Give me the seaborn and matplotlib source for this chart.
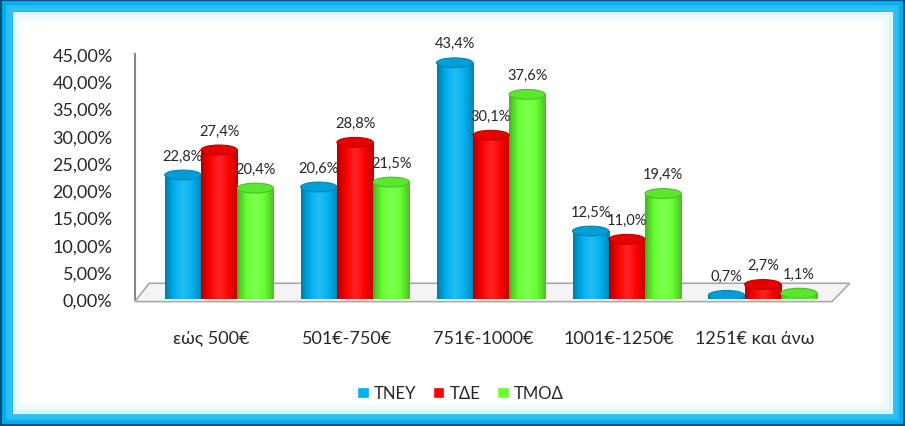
import numpy as np
import pandas as pd
import matplotlib
matplotlib.use("Agg")
import matplotlib.pyplot as plt
import matplotlib.transforms as mtransforms
from matplotlib.colors import LinearSegmentedColormap, to_rgb
from matplotlib.patches import Rectangle, Polygon, Ellipse
import seaborn as sns

categories = ["εώς 500€", "501€-750€", "751€-1000€", "1001€-1250€", "1251€ και άνω"]
series = ["ΤΝΕΥ", "ΤΔΕ", "ΤΜΟΔ"]
tney = [22.8, 20.6, 43.4, 12.5, 0.7]
tde = [27.4, 28.8, 30.1, 11.0, 2.7]
tmod = [20.4, 21.5, 37.6, 19.4, 1.1]
colors = ["#00B0F0", "#FF0000", "#66FF33"]

rows = []
for name, vals in zip(series, [tney, tde, tmod]):
    for cat, v in zip(categories, vals):
        rows.append([cat, name, v])
df = pd.DataFrame(rows, columns=["category", "series", "value"])

sns.set_style("white")
plt.rcParams["font.family"] = ["Lato", "Open Sans", "DejaVu Sans"]

fig = plt.figure(figsize=(9.05, 4.27), dpi=100)
ax = fig.add_axes([0.149, 0.297, 0.79, 0.574])

sns.barplot(data=df, x="category", y="value", hue="series", palette=colors,
            width=0.8, saturation=1, ax=ax, legend=True)

ax.set_ylim(0, 45)
ax.set_xlim(-0.62, 4.64)

def shade(c, f):
    r, g, b = to_rgb(c)
    if f < 1:
        return (r * f, g * f, b * f)
    return (r + (1 - r) * (f - 1), g + (1 - g) * (f - 1), b + (1 - b) * (f - 1))

# cylinder look: horizontal gradient + elliptical caps on each bar
cap_h = 1.8
for cont, col in zip(ax.containers, colors):
    cmap = LinearSegmentedColormap.from_list(
        "cyl", [shade(col, 0.7), shade(col, 1.0), shade(col, 1.15),
                shade(col, 1.0), shade(col, 0.75)])
    grad = np.linspace(0, 1, 64).reshape(1, -1)
    for bar in cont:
        x0, w, h = bar.get_x(), bar.get_width(), bar.get_height()
        bar.set_facecolor("none")
        bar.set_edgecolor("none")
        body = Rectangle((x0, 0), w, h, transform=ax.transData)
        im = ax.imshow(grad, cmap=cmap, aspect="auto", extent=(x0, x0 + w, 0, h),
                       zorder=2, interpolation="bilinear")
        im.set_clip_path(body)
        ax.add_patch(Ellipse((x0 + w / 2, 0), w, cap_h, facecolor=shade(col, 0.8),
                             edgecolor="none", zorder=1.9))
        ax.add_patch(Ellipse((x0 + w / 2, h), w, cap_h, facecolor=shade(col, 0.9),
                             edgecolor=shade(col, 0.75), lw=0.8, zorder=3))
ax.set_aspect("auto")
ax.set_xlim(-0.62, 4.64)
ax.set_ylim(0, 45)

for cont in ax.containers:
    vals = [b.get_height() for b in cont]
    ax.bar_label(cont, labels=[f"{v:.1f}%".replace(".", ",") for v in vals],
                 padding=9, fontsize=10.5)

ax.set_yticks(np.arange(0, 46, 5))
ax.set_yticklabels([f"{t:.2f}%".replace(".", ",") for t in np.arange(0, 46, 5)], fontsize=13)
ax.tick_params(axis="y", length=0, pad=16)
ax.tick_params(axis="x", length=0, pad=22, labelsize=13)
shift = mtransforms.ScaledTranslation(-8 / 100, 0, fig.dpi_scale_trans)
for lab in ax.get_xticklabels():
    lab.set_transform(lab.get_transform() + shift)
ax.set_xlabel("")
ax.set_ylabel("")
for s in ["top", "right", "bottom"]:
    ax.spines[s].set_visible(False)
ax.spines["left"].set_color("#888888")
ax.spines["left"].set_linewidth(1.5)
ax.set_facecolor("none")

# grey 3D-style floor
floor = Polygon([(0.0, -0.01), (0.02, 0.065), (1.0, 0.065), (0.975, -0.01)],
                closed=True, transform=ax.transAxes, facecolor="#f4f4f4",
                edgecolor="#aaaaaa", lw=1.2, zorder=0.5, clip_on=False)
ax.add_patch(floor)

leg = ax.legend(loc="upper center", bbox_to_anchor=(0.455, -0.29), ncol=3,
                frameon=False, fontsize=12, handlelength=0.7, handleheight=0.7,
                handletextpad=0.3, columnspacing=1.0)
for h, col in zip(leg.legend_handles, colors):
    h.set_facecolor(col)

# cyan frame with soft glow
fig.patches.append(Rectangle((0, 0), 1, 1, transform=fig.transFigure,
                             fill=False, edgecolor="#00B0F0", lw=18, zorder=-1))
for k, alpha in enumerate([0.35, 0.22, 0.12, 0.06]):
    off = (9 + 4 * k) / 905
    offy = (9 + 4 * k) / 427
    fig.patches.append(Rectangle((off, offy), 1 - 2 * off, 1 - 2 * offy,
                                 transform=fig.transFigure, fill=False,
                                 edgecolor="#7fd6f7", alpha=alpha, lw=4, zorder=-1))
fig.patches.append(Rectangle((0, 0), 1, 1, transform=fig.transFigure,
                             fill=False, edgecolor="#00507a", lw=3, zorder=-1))

fig.savefig("out.png", dpi=100)
